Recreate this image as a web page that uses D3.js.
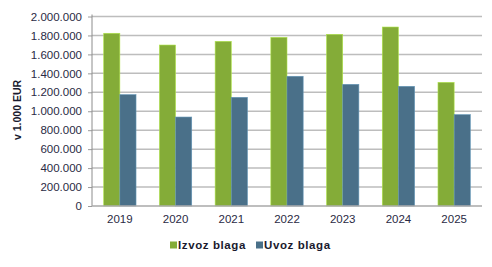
<!DOCTYPE html>
<html>
<head>
<meta charset="utf-8">
<script src="https://cdn.jsdelivr.net/npm/d3@7"></script>
<style>
  body { margin: 0; background: #fff; }
  svg { display: block; font-family: "Liberation Sans", Arial, sans-serif; }
</style>
</head>
<body>
<svg id="chart" width="492" height="267"></svg>
<script>
var years = ['2019', '2020', '2021', '2022', '2023', '2024', '2025'];
var izvoz = [1823000, 1699000, 1738000, 1780000, 1812000, 1889000, 1305000];
var uvoz = [1175000, 939000, 1147000, 1369000, 1284000, 1263000, 964000];
var yTicks = [0, 200000, 400000, 600000, 800000, 1000000, 1200000, 1400000, 1600000, 1800000, 2000000];
var seriesNames = ['Izvoz blaga', 'Uvoz blaga'];
var colors = ['#84ac38', '#4a7089'];

var svg = d3.select('#chart');
var plotLeft = 92, plotRight = 482, plotTop = 16.5, plotBottom = 206;

var fmt = function(d) {
    return d3.format(',')(d).replace(/,/g, '.');
};

var x = d3.scaleBand().domain(years).range([plotLeft, plotRight]).paddingInner(0.42).paddingOuter(0.21);
var x1 = d3.scaleBand().domain(seriesNames).range([0, x.bandwidth()]);
var y = d3.scaleLinear().domain([0, 2000000]).range([plotBottom, plotTop]);

// grid
svg.append('g').selectAll('line').data(yTicks.slice(1)).enter().append('line')
    .attr('x1', plotLeft).attr('x2', plotRight)
    .attr('y1', function(d) { return y(d); }).attr('y2', function(d) { return y(d); })
    .attr('stroke', '#bdbdbd').attr('stroke-width', 1.5);

// y axis
var yAxis = svg.append('g').attr('transform', 'translate(' + plotLeft + ',0)')
    .call(d3.axisLeft(y).tickValues(yTicks).tickFormat(fmt).tickSize(4).tickPadding(6));
yAxis.select('.domain').remove();
yAxis.selectAll('.tick line').attr('stroke', '#9a9a9a');
yAxis.selectAll('text').attr('font-size', 11.5).attr('fill', '#2a2a44');

// bars
var data = [izvoz, uvoz];
var groups = svg.append('g').selectAll('g').data(data).enter().append('g')
    .attr('fill', function(d, i) { return colors[i]; });
groups.each(function(vals, si) {
    d3.select(this).selectAll('rect').data(vals).enter().append('rect')
        .attr('x', function(d, i) { return x(years[i]) + x1(seriesNames[si]); })
        .attr('y', function(d) { return y(d); })
        .attr('width', x1.bandwidth())
        .attr('height', function(d) { return y(0) - y(d); })
        .attr('stroke', function() { return d3.color(colors[si]).brighter(0.8); })
        .attr('stroke-width', 0.6);
});

// axes lines
svg.append('line').attr('x1', plotLeft).attr('x2', plotLeft).attr('y1', plotTop - 2).attr('y2', plotBottom)
    .attr('stroke', '#8c8c8c').attr('stroke-width', 1);
svg.append('line').attr('x1', plotLeft).attr('x2', plotRight).attr('y1', plotBottom).attr('y2', plotBottom)
    .attr('stroke', '#a8a8a8').attr('stroke-width', 1.5);

// x labels
var xAxis = svg.append('g').attr('transform', 'translate(0,' + plotBottom + ')')
    .call(d3.axisBottom(x).tickSize(0).tickPadding(9));
xAxis.select('.domain').remove();
xAxis.selectAll('text').attr('font-size', 11.5).attr('fill', '#2a2a44');

// y title
svg.append('text').attr('transform', 'translate(21,110) rotate(-90)')
    .attr('text-anchor', 'middle').attr('font-size', 10.5).attr('font-weight', 'bold')
    .attr('fill', '#1a1a2e')
    .text('v 1.000 EUR');

// legend
var legendX = [170, 256];
var legend = svg.append('g').selectAll('g').data(seriesNames).enter().append('g')
    .attr('transform', function(d, i) { return 'translate(' + legendX[i] + ',245)'; });
legend.append('rect').attr('x', 0).attr('y', -3.5).attr('width', 7).attr('height', 7)
    .attr('fill', function(d, i) { return colors[i]; });
legend.append('text').attr('x', 8).attr('y', 4).attr('font-size', 11.5)
    .attr('font-weight', 'bold').attr('letter-spacing', 0.6).attr('fill', '#1a1a2e')
    .text(function(d) { return d; });
</script>
</body>
</html>
